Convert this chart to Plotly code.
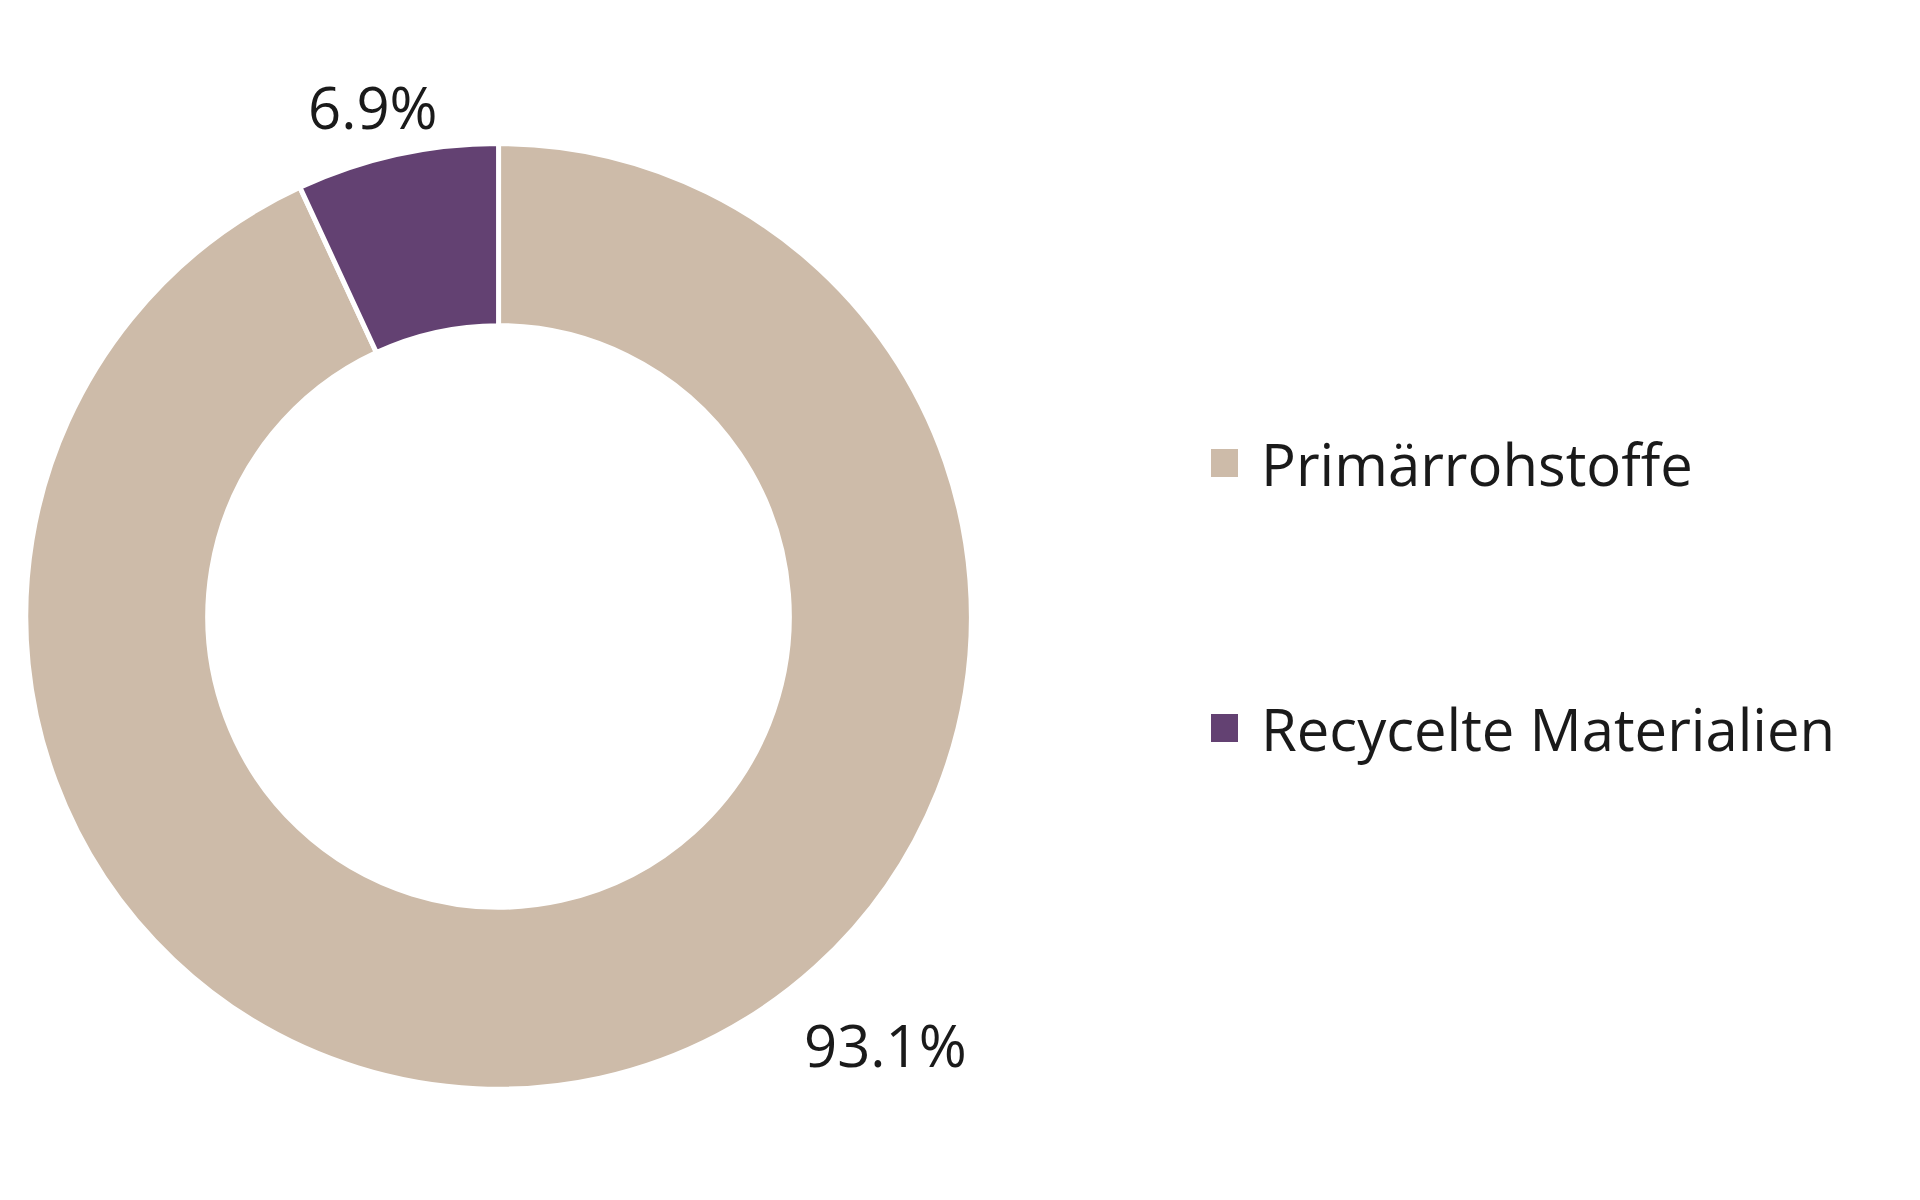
import plotly.graph_objects as go

labels = ["Primärrohstoffe", "Recycelte Materialien"]
values = [93.1, 6.9]
colors = ["#CDBBA9", "#634172"]
label_text = ["93.1%", "6.9%"]

fig = go.Figure(go.Pie(
    labels=labels, values=values, hole=0.615, sort=False, direction="clockwise",
    rotation=0, textinfo="none", hoverinfo="label+percent",
    marker=dict(colors=colors, line=dict(color="white", width=5)),
    domain=dict(x=[0.009, 0.502], y=[0.099, 0.887]), showlegend=False))

font = dict(family="Open Sans, sans-serif", size=58, color="#1a1a1a")
anns = [
    dict(x=0.457, y=0.136, text=label_text[0]),
    dict(x=0.19, y=0.918, text=label_text[1]),
]
for a in anns:
    a.update(xref="paper", yref="paper", showarrow=False, font=font, xanchor="center", yanchor="middle")
leg_y = [1 - 455/1200, 1 - 720/1200]
shapes = []
for lab, col, yy in zip(labels, colors, leg_y):
    anns.append(dict(x=1251/1920, y=yy, xref="paper", yref="paper", text=lab, showarrow=False,
                     font=font, xanchor="left", yanchor="middle"))
    shapes.append(dict(type="rect", xref="paper", yref="paper", x0=1203/1920, x1=1230/1920,
                       y0=yy - 14/1200, y1=yy + 14/1200, fillcolor=col, line=dict(width=0)))

fig.update_layout(width=1920, height=1200, margin=dict(l=0, r=0, t=0, b=0),
                  paper_bgcolor="white", plot_bgcolor="white", annotations=anns, shapes=shapes)
fig.write_html("out.html")
